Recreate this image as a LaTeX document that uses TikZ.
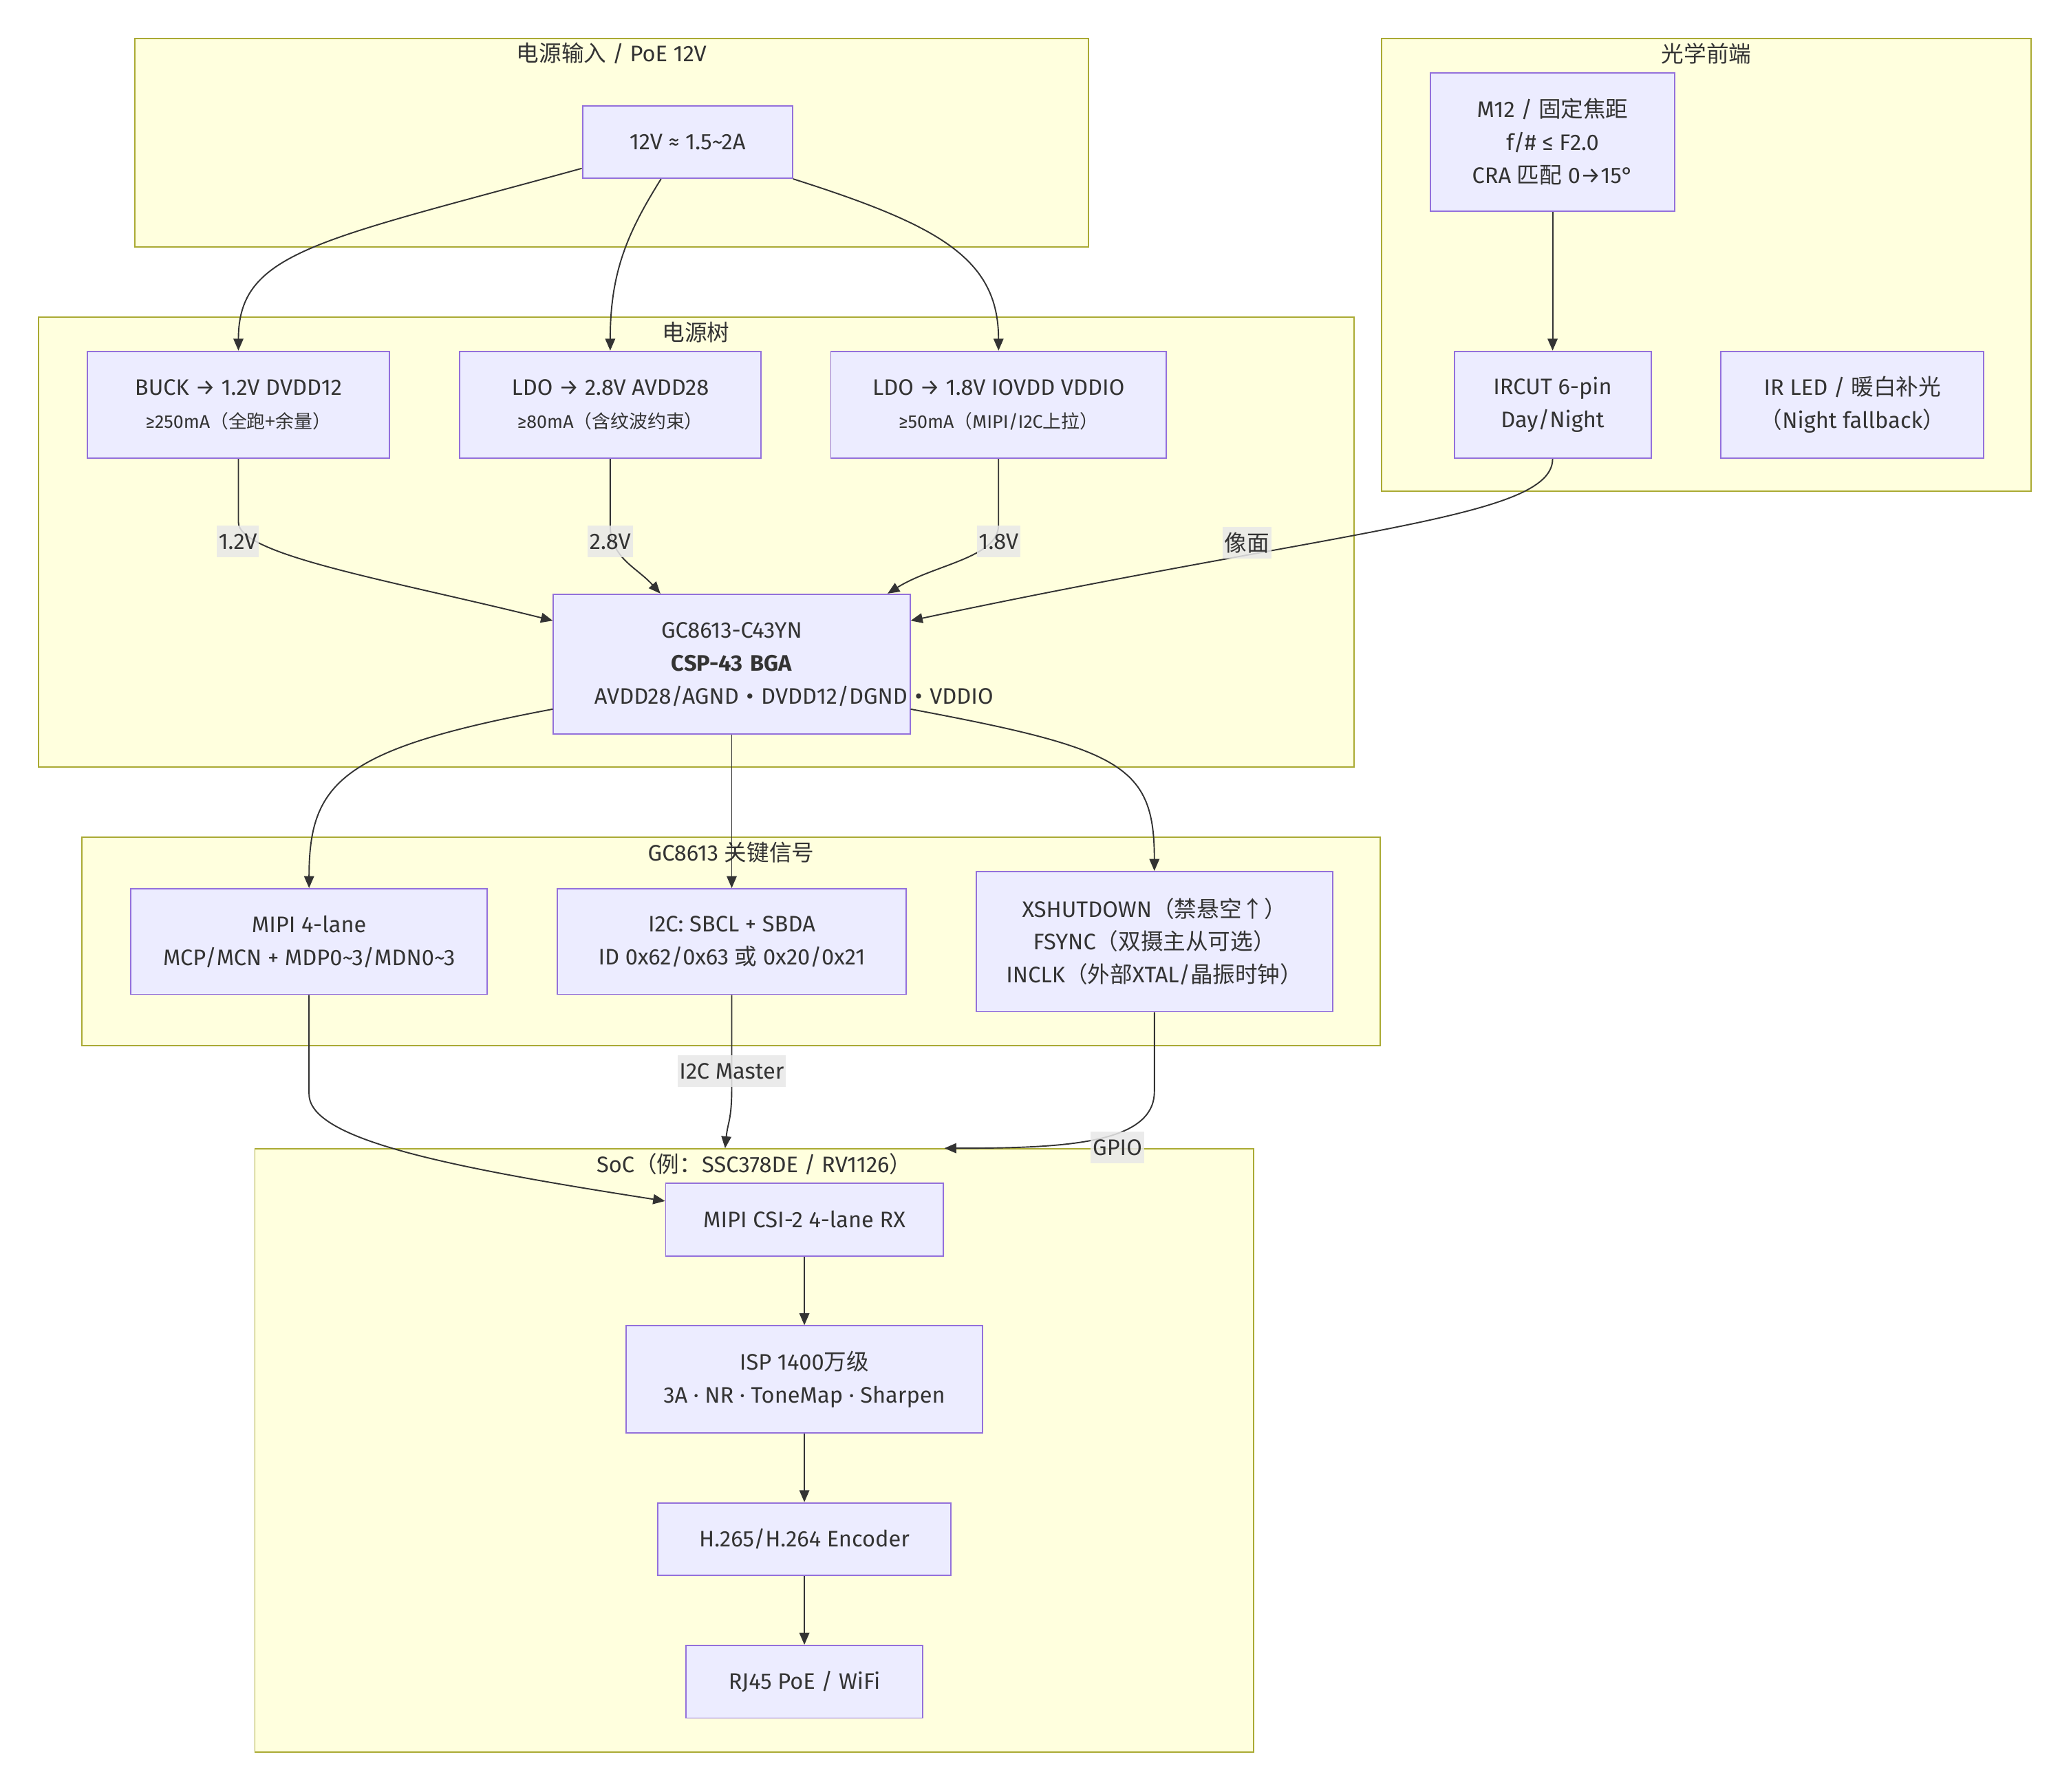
\documentclass[tikz,border=0pt]{standalone}
\usepackage{fontspec}
\setmainfont{Fira Sans}
\newfontfamily\cjkfont{Noto Sans CJK SC}
\newcommand{\zh}[1]{{\cjkfont #1}}
\newcommand{\sm}{\fontsize{14}{20}\selectfont}
\usepackage{tikz}
\usetikzlibrary{positioning,fit,arrows.meta,backgrounds}
\definecolor{grpfill}{HTML}{FFFFDE}
\definecolor{grpline}{HTML}{AAAA33}
\definecolor{boxfill}{HTML}{ECECFF}
\definecolor{boxline}{HTML}{9370DB}
\definecolor{ink}{HTML}{333333}
\definecolor{lblbg}{HTML}{E8E8E8}

\begin{document}
\begin{tikzpicture}[x=1pt, y=-1pt,
  font=\fontsize{17}{25}\selectfont, text=ink, >={Triangle[length=9pt, width=7.5pt]},
  nd/.style={draw=boxline, fill=boxfill, line width=1pt, minimum height=55pt, inner sep=2pt, align=center},
  grp/.style={draw=grpline, fill=grpfill, line width=1pt, inner sep=0pt},
  ttl/.style={anchor=center, yshift=-12pt, text=ink},
  lbl/.style={fill=lblbg, fill opacity=0.85, text opacity=1, inner xsep=1.5pt, inner ysep=0pt, minimum height=24pt},
  ln/.style={draw=ink, line width=1pt}]
\useasboundingbox (0,0) rectangle (1568,1357);
\begin{scope}[on background layer]
\fill[white] (0,0) rectangle (1568,1357);
\end{scope}
% ---------------- power input
\node[nd, minimum width=159pt] (vin) at (520.5,107.5) {12V ≈ 1.5\textasciitilde2A};
\begin{scope}[on background layer]
\node[grp, fit={(102,29) (824,187)}, label={[ttl]north:{\zh{电源输入} / PoE 12V}}] (pin) {};
\end{scope}
% ---------------- power tree
\node[nd, minimum width=229pt, minimum height=81pt] (buck) at (180.5,306.5) {BUCK → 1.2V DVDD12\\{\sm ≥250mA\zh{（全跑+余量）}}};
\node[nd, minimum width=228pt, minimum height=81pt] (ldoa) at (462,306.5) {LDO → 2.8V AVDD28\\{\sm ≥80mA\zh{（含纹波约束）}}};
\node[nd, minimum width=254pt, minimum height=81pt] (ldoio) at (756,306.5) {LDO → 1.8V IOVDD VDDIO\\{\sm ≥50mA\zh{（}MIPI/I2C\zh{上拉）}}};
\node[nd, minimum width=270pt, minimum height=106pt, text width=208pt] (gc) at (554,503)
  {GC8613-C43YN\\\textbf{CSP-43 BGA}\\\mbox{AVDD28/AGND • DVDD12/DGND • VDDIO}};
\begin{scope}[on background layer]
\node[grp, fit={(29,240) (1025,581)}, label={[ttl]north:{\zh{电源树}}}] (ptree) {};
\end{scope}
% ---------------- optics
\node[nd, minimum width=185pt, minimum height=105pt] (lens) at (1175.5,107.5) {M12 / \zh{固定焦距}\\f/\# ≤ F2.0\\CRA \zh{匹配} 0→15°};
\node[nd, minimum width=149pt, minimum height=81pt] (ircut) at (1175.5,306.5) {IRCUT 6-pin\\Day/Night};
\node[nd, minimum width=199pt, minimum height=81pt] (irled) at (1402.5,306.5) {IR LED / \zh{暖白补光}\\\zh{（}Night fallback\zh{）}};
\begin{scope}[on background layer]
\node[grp, fit={(1046,29) (1538,372)}, label={[ttl]north:{\zh{光学前端}}}] (optic) {};
\end{scope}
% ---------------- sensor signals
\node[nd, minimum width=270pt, minimum height=80pt] (mipi) at (234,713) {MIPI 4-lane\\MCP/MCN + MDP0\textasciitilde3/MDN0\textasciitilde3};
\node[nd, minimum width=264pt, minimum height=80pt] (i2c) at (554,713) {I2C: SBCL + SBDA\\ID 0x62/0x63 \zh{或} 0x20/0x21};
\node[nd, minimum width=270pt, minimum height=106pt] (ctl) at (874,713)
  {XSHUTDOWN\zh{（禁悬空↑）}\\FSYNC\zh{（双摄主从可选）}\\INCLK\zh{（外部}XTAL/\zh{晶振时钟）}};
\begin{scope}[on background layer]
\node[grp, fit={(62,634) (1045,792)}, label={[ttl]north:{GC8613 \zh{关键信号}}}] (sig) {};
\end{scope}
% ---------------- SoC
\node[nd, minimum width=210pt] (csi) at (609,923.5) {MIPI CSI-2 4-lane RX};
\node[nd, minimum width=270pt, minimum height=81pt] (isp) at (609,1044.5) {ISP 1400\zh{万级}\\3A · NR · ToneMap · Sharpen};
\node[nd, minimum width=222pt] (enc) at (609,1165.5) {H.265/H.264 Encoder};
\node[nd, minimum width=179pt] (rj) at (609,1273.5) {RJ45 PoE / WiFi};
\begin{scope}[on background layer]
\node[grp, fit={(193,870) (949,1327)}, label={[ttl]north:{SoC\zh{（例：}SSC378DE / RV1126\zh{）}}}] (soc) {};
\end{scope}
% ---------------- connectors
\draw[ln, ->] ([yshift=-20pt]vin.west) .. controls +(-200,55) and +(0,-75) .. (buck.north);
\draw[ln, ->] ([xshift=-20pt]vin.south) .. controls +(-25,40) and +(0,-60) .. (ldoa.north);
\draw[ln, ->] (vin.south east) .. controls +(110,35) and +(0,-70) .. (ldoio.north);
\draw[ln, ->] (buck.south) -- ++(0,48) .. controls +(0,25) and +(-120,-30) .. ([yshift=33pt]gc.west);
\draw[ln, ->] (ldoa.south) -- ++(0,50) .. controls +(0,25) and +(-18,-20) .. ([xshift=-54pt]gc.north);
\draw[ln, ->] (ldoio.south) -- ++(0,50) .. controls +(0,25) and +(35,-22) .. ([xshift=118pt]gc.north);
\draw[ln, ->] (ircut.south) .. controls +(0,45) and +(330,-70) .. ([yshift=33pt]gc.east);
\draw[ln, ->] ([yshift=-34pt]gc.west) .. controls +(-160,30) and +(0,-80) .. (mipi.north);
\draw[ln, ->] ([yshift=-34pt]gc.east) .. controls +(160,30) and +(0,-80) .. (ctl.north);
\draw[ln, ->] (mipi.south) -- ++(0,75) .. controls +(0,35) and +(-160,-25) .. ([yshift=14pt]csi.west);
\draw[ln, ->] (i2c.south) -- ++(0,70) .. controls +(0,25) and +(2,-20) .. ([xshift=-22pt]soc.north);
\draw[ln, ->] (ctl.south) -- ++(0,60) .. controls +(0,40) and +(90,0) .. ([xshift=144pt]soc.north);
\foreach \a/\b in {lens/ircut, gc/i2c, csi/isp, isp/enc, enc/rj} \draw[ln, ->] (\a.south) -- (\b.north);
% edge labels
\node[lbl] (l12) at (180,410) {1.2V};
\node[lbl] (l28) at (462,410) {2.8V};
\node[lbl] (l18) at (756,410) {1.8V};
\node[lbl] (lpix) at (944,411) {\zh{像面}};
\node[lbl] (lmst) at (554,811) {I2C Master};
\node[lbl] (lgpio) at (846,869) {GPIO};
\end{tikzpicture}
\end{document}
